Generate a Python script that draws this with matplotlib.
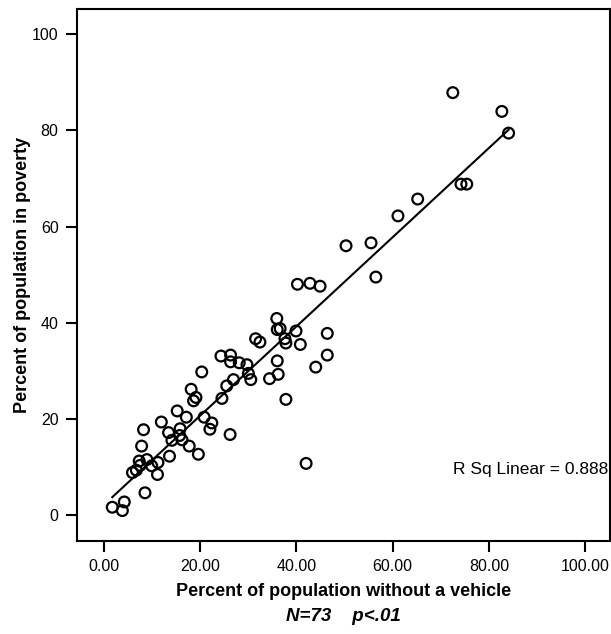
import matplotlib.pyplot as plt
import numpy as np

plt.rcParams["font.family"] = ["Liberation Sans", "DejaVu Sans"]

# percent without a vehicle / percent in poverty
no_vehicle = [35.9, 36.0, 31.5, 32.4, 24.3, 26.3, 26.3, 28.1, 29.7, 30.0,
              30.5, 34.4, 36.0, 20.3, 26.9, 25.5, 24.5, 18.1, 19.1, 18.6,
              15.2, 17.1, 11.9, 20.8, 22.4, 22.0, 8.2, 13.4, 15.8, 15.7,
              14.1, 16.2, 26.2, 7.8, 17.7, 19.6, 13.6, 8.9, 11.2, 7.3,
              7.5, 9.9, 6.7, 5.9, 11.1, 8.5, 1.7, 4.2, 3.8, 40.2,
              42.8, 44.9, 56.5, 36.6, 39.9, 37.6, 37.8, 40.8, 46.4, 46.4,
              44.0, 36.2, 37.8, 42.0, 72.5, 82.7, 84.1, 74.2, 75.4, 65.2,
              61.1, 55.5, 50.3]
poverty = [40.9, 38.6, 36.7, 36.0, 33.1, 33.3, 31.9, 31.7, 31.3, 29.5,
           28.2, 28.4, 32.1, 29.8, 28.2, 26.9, 24.3, 26.2, 24.5, 23.8,
           21.7, 20.4, 19.4, 20.4, 19.2, 17.9, 17.8, 17.2, 18.0, 16.6,
           15.6, 15.7, 16.8, 14.4, 14.4, 12.7, 12.3, 11.6, 11.0, 11.3,
           10.4, 10.3, 9.4, 8.9, 8.5, 4.7, 1.7, 2.8, 1.0, 48.0,
           48.2, 47.6, 49.5, 38.8, 38.3, 36.7, 35.8, 35.5, 37.8, 33.3,
           30.8, 29.3, 24.1, 10.8, 87.8, 83.9, 79.4, 68.8, 68.8, 65.7,
           62.2, 56.6, 56.0]

x_ticks = [0, 20, 40, 60, 80, 100]
y_ticks = [0, 20, 40, 60, 80, 100]

x = np.array(no_vehicle)
y = np.array(poverty)
slope, intercept = np.polyfit(x, y, 1)

fig = plt.figure(figsize=(6.11, 6.34), dpi=100)
ax = fig.add_axes([0.1255, 0.146, 0.873, 0.8393])

ax.scatter(x, y, s=60, facecolors="none", edgecolors="black", linewidths=1.6, zorder=3)
xs = np.array([x.min(), x.max()])
ax.plot(xs, intercept + slope * xs, color="black", linewidth=1.5, zorder=2)

ax.set_xlim(-5.7, 105.2)
ax.set_ylim(-5.4, 105.1)
ax.set_xticks(x_ticks)
ax.set_xticklabels([f"{t:.2f}" for t in x_ticks])
ax.set_yticks(y_ticks)
ax.tick_params(direction="out", length=8, width=1.5, labelsize=11.5, pad=5)

for sp in ax.spines.values():
    sp.set_linewidth(1.5)

ax.set_xlabel("Percent of population without a vehicle", fontsize=13,
              fontweight="bold", labelpad=6)
ax.set_ylabel("Percent of population in poverty", fontsize=13,
              fontweight="bold", labelpad=1)

ax.text(0.997, 0.135, "R Sq Linear = 0.888", transform=ax.transAxes,
        ha="right", va="center", fontsize=12.5)

fig.text(0.562, 0.027, "N=73    p<.01", ha="center", va="center",
         fontsize=13.5, fontweight="bold", fontstyle="italic")

fig.savefig("out.png", dpi=100)
